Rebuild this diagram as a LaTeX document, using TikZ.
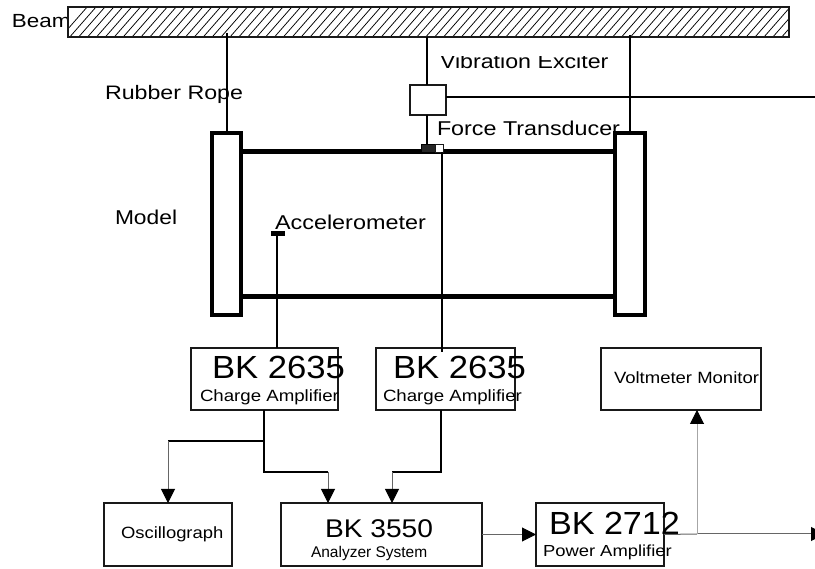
\documentclass[tikz,border=0pt]{standalone}
\usepackage{fontspec}
\setmainfont{Liberation Sans}
\usetikzlibrary{arrows.meta}
\tikzset{
  lab/.style 2 args={anchor=base west,inner sep=0pt,outer sep=0pt,text=black,transform shape,xscale=#2,font=\fontsize{#1}{#1}\selectfont},
  boxy/.style={draw=black!90,line width=1.3pt,fill=white,inner sep=0pt,outer sep=0pt},
  frame/.style={draw=black,line width=4.5pt,fill=white,inner sep=0pt,outer sep=0pt},
  wire/.style={draw=black,line width=1.3pt},
  thinwire/.style={draw=black!60,line width=1pt},
  arrow/.style={-{Triangle[length=14pt,width=14pt,color=black,fill=black]}},
}
\begin{document}
\begin{tikzpicture}[x=1pt,y=-1pt]
\clip (0,0) rectangle (815,569);
\fill[white] (0,0) rectangle (815,569);
% labels below shapes
\node[lab={19}{1.18}] (tbeam) at (12,28) {Beam};
% beam
\node[boxy,minimum width=721pt,minimum height=30pt] (beam) at (428.5,22) {};
\begin{scope}
  \clip (beam.south west) rectangle (beam.north east);
  \foreach \k in {0,...,88} {
    \draw[black,line width=0.75pt] (60+\k*8.9,38) -- (60+\k*8.9+28,6);
  }
\end{scope}
\draw[boxy,fill=none] (beam.south west) rectangle (beam.north east);
% coordinates for hangers and routes
\coordinate (h1) at (227,33);
\coordinate (h2) at (427,37);
\coordinate (h3) at (630,35);
\coordinate (far) at (815,97);
\coordinate (sens2) at (442,152);
\coordinate (j1) at (264,441);
\coordinate (o1) at (168,441);
\coordinate (k1) at (264,472);
\coordinate (k2) at (328,472);
\coordinate (k3) at (441,472);
\coordinate (k4) at (392,472);
\coordinate (m1) at (697,534);
\coordinate (out) at (825,534);
% texts under the hardware
\begin{scope}
  \clip (435,57) rectangle (620,75);
  \node[lab={20}{1.16}] (tvib) at (440,69) {Vibration Exciter};
\end{scope}
\node[lab={20}{1.165}] (tforce) at (437,136) {Force Transducer};
% exciter
\node[boxy,minimum width=36pt,minimum height=30pt] (exciter) at (428,100) {};
\draw[wire] (h2) -- (exciter.north -| h2);
\draw[wire] (exciter.east |- far) -- (far);
% hangers
\node[frame,minimum width=29pt,minimum height=182pt] (left) at (226.5,224) {};
\node[frame,minimum width=30pt,minimum height=182pt] (right) at (630,224) {};
\draw[wire] (h1) -- (h1 |- left.north);
\draw[wire] (h3) -- (h3 |- right.north);
\node[lab={19.5}{1.19}] (trope) at (105,100) {Rubber Rope};
\node[lab={20}{1.14}] (tmodel) at (115,225) {Model};
% model bars
\draw[line width=5pt] (left.east |- 0,152) -- (right.west |- 0,152);
\draw[line width=5pt] (left.east |- 0,297) -- (right.west |- 0,297);
% transducer
\node[fill=black!85,draw=black,line width=0.6pt,minimum width=14pt,minimum height=8pt,inner sep=0pt,outer sep=0pt] (trans) at (428,148) {};
\node[boxy,line width=0.8pt,minimum width=8pt,minimum height=8pt] (transb) at (439,148) {};
\draw[wire] (exciter.south -| h2) -- (trans.north -| h2);
% accelerometer
\node[fill=black,minimum width=14pt,minimum height=5pt,inner sep=0pt,outer sep=0pt] (acc) at (278,233.5) {};
\node[lab={20}{1.17}] (tacc) at (275,230) {Accelerometer};
% boxes
\node[boxy,minimum width=147pt,minimum height=62pt] (amp1) at (264.5,379) {};
\node[boxy,minimum width=139pt,minimum height=62pt] (amp2) at (445.5,379) {};
\node[boxy,minimum width=160pt,minimum height=62pt] (volt) at (681,379) {};
\node[boxy,minimum width=128pt,minimum height=63pt] (osc) at (168,534.5) {};
\node[boxy,minimum width=201pt,minimum height=63pt] (ana) at (381.5,534.5) {};
\node[boxy,minimum width=128pt,minimum height=63pt] (pow) at (600,534.5) {};
% sensor leads
\draw[wire] (acc.south -| 277,0) -- (277,0 |- amp1.north);
\draw[wire] (sens2) -- (sens2 |- amp2.north) -- ++(0,4);
% box texts
\node[lab={32}{1.083}] (t1a) at (212,379) {BK 2635};
\node[lab={16.3}{1.145}] (t1b) at (200,402) {Charge Amplifier};
\node[lab={32}{1.083}] (t2a) at (393,379) {BK 2635};
\node[lab={16.3}{1.145}] (t2b) at (383,402) {Charge Amplifier};
\node[lab={16.3}{1.135}] (t3) at (614,384) {Voltmeter Monitor};
\node[lab={16.3}{1.13}] (t4) at (121,539) {Oscillograph};
\node[lab={25.6}{1.1}] (t5a) at (325,537) {BK 3550};
\node[lab={15.5}{1.0}] (t5b) at (311,558) {Analyzer System};
\node[lab={32}{1.067}] (t6a) at (549,535) {BK 2712};
\node[lab={16}{1.15}] (t6b) at (543,557) {Power Amplifier};
% connectors
\draw[wire] (amp1.south -| k1) -- (k1) -- (k2);
\draw[wire] (j1) -- (o1);
\draw[wire] (amp2.south -| k3) -- (k3) -- (k4);
\draw[thinwire,arrow] (o1) -- (o1 |- osc.north);
\draw[thinwire,arrow] (k2) -- (k2 |- ana.north);
\draw[thinwire,arrow] (k4) -- (k4 |- ana.north);
\draw[thinwire,arrow] (ana.east) -- (pow.west);
\draw[thinwire] (pow.east) -- (m1);
\draw[thinwire,arrow] (m1) -- (out);
\draw[draw=black!35,line width=1pt,arrow] (m1) -- (m1 |- volt.south);
\end{tikzpicture}
\end{document}
